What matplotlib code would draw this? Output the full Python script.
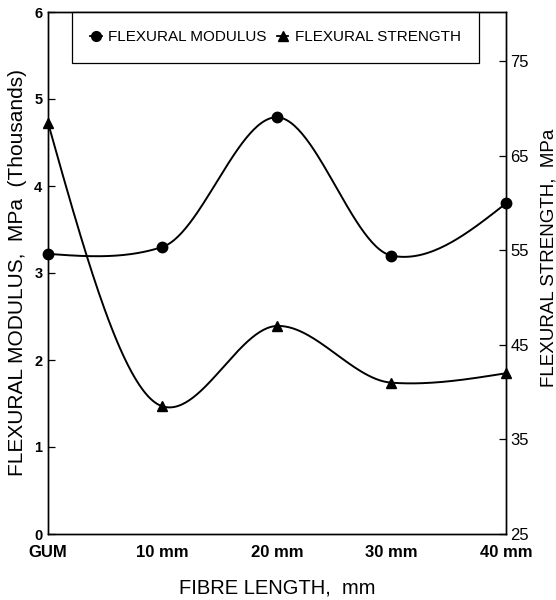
import numpy as np
import matplotlib
matplotlib.use('Agg')
import matplotlib.pyplot as plt

plt.rcParams['font.family'] = ['Liberation Sans', 'DejaVu Sans']

fibre_lengths = ['GUM', '10 mm', '20 mm', '30 mm', '40 mm']
flexural_modulus = [3.22, 3.30, 4.79, 3.20, 3.80]      # MPa (thousands)
flexural_strength = [68.5, 38.5, 47.0, 41.0, 42.0]     # MPa


def smooth_curve(x, y, c=0.55, n=60):
    # cardinal (Hermite) spline through the points, only for drawing the line
    x = np.asarray(x, float)
    y = np.asarray(y, float)
    k = len(x)
    m = np.zeros(k)
    for i in range(1, k - 1):
        m[i] = c * (y[i + 1] - y[i - 1]) / (x[i + 1] - x[i - 1])
    m[0] = (3 * (y[1] - y[0]) / (x[1] - x[0]) - m[1]) / 2
    m[-1] = (3 * (y[-1] - y[-2]) / (x[-1] - x[-2]) - m[-2]) / 2
    xs_all, ys_all = [], []
    for i in range(k - 1):
        h = x[i + 1] - x[i]
        t = np.linspace(0, 1, n)
        h00 = 2 * t ** 3 - 3 * t ** 2 + 1
        h10 = t ** 3 - 2 * t ** 2 + t
        h01 = -2 * t ** 3 + 3 * t ** 2
        h11 = t ** 3 - t ** 2
        xs_all.append(x[i] + t * h)
        ys_all.append(h00 * y[i] + h10 * h * m[i] + h01 * y[i + 1] + h11 * h * m[i + 1])
    return np.concatenate(xs_all), np.concatenate(ys_all)


xpos = np.arange(len(fibre_lengths))

fig = plt.figure(figsize=(5.56, 6.0), dpi=100)
ax = fig.add_axes([0.0863, 0.11, 0.8237, 0.87])
ax2 = ax.twinx()

xs, ys = smooth_curve(xpos, flexural_modulus)
ax.plot(xs, ys, color='black', lw=1.4)
ax.plot(xpos, flexural_modulus, 'o', color='black', ms=7.5, clip_on=False)

xs2, ys2 = smooth_curve(xpos, flexural_strength, c=0.35)
ax2.plot(xs2, ys2, color='black', lw=1.4)
ax2.plot(xpos, flexural_strength, '^', color='black', ms=7.5, clip_on=False)

h1, = ax.plot([], [], '-o', color='black', ms=7, lw=1.3)
h2, = ax.plot([], [], '-^', color='black', ms=7, lw=1.3)
leg = ax.legend([h1, h2], ['FLEXURAL MODULUS', 'FLEXURAL STRENGTH'],
                loc='upper left', bbox_to_anchor=(0.052, 1.0, 0.889, 0),
                mode='expand', ncol=2, borderaxespad=0, fancybox=False,
                edgecolor='black', fontsize=11, handlelength=0.75,
                handletextpad=0.4, borderpad=1.2, framealpha=1)
leg.get_frame().set_linewidth(0.9)

ax.set_xlim(0, 4)
ax.set_ylim(0, 6)
ax2.set_ylim(25, 80.2)
ax.set_xticks(xpos)
ax.set_xticklabels(fibre_lengths, fontsize=12, fontweight='bold')
ax.set_yticks(range(0, 7))
ax.set_yticklabels([str(v) for v in range(0, 7)], fontsize=10.5, fontweight='bold')
ax2.set_yticks(range(25, 80, 10))
ax2.set_yticklabels([str(v) for v in range(25, 80, 10)], fontsize=12)

ax.tick_params(axis='y', direction='in', length=5, width=0.9, pad=4)
ax.tick_params(axis='x', direction='in', length=0, pad=8)
ax2.tick_params(axis='y', direction='in', length=5, width=0.9, pad=3)

for a in (ax, ax2):
    for s in a.spines.values():
        s.set_linewidth(1.0)

ax.set_xlabel('FIBRE LENGTH,  mm', fontsize=14.5, labelpad=13)
fig.text(0.031, 0.545, 'FLEXURAL MODULUS,  MPa  (Thousands)', rotation=90,
         ha='center', va='center', fontsize=15)
fig.text(0.987, 0.57, 'FLEXURAL STRENGTH,  MPa', rotation=90,
         ha='center', va='center', fontsize=13.5)

fig.savefig('out.png', dpi=100)
